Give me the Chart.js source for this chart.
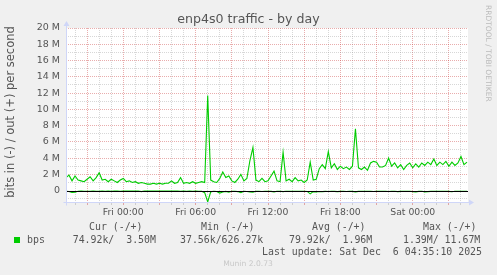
<!DOCTYPE html>
<html>
<head>
<meta charset="utf-8">
<script src="https://cdn.jsdelivr.net/npm/chart.js@4/dist/chart.umd.min.js"></script>
<style>
  html, body { margin: 0; padding: 0; background: #f0f0f0; }
</style>
</head>
<body>
<canvas id="graph" width="497" height="275"></canvas>
<script>
// munin if_ graph, day view (hours are relative to Fri 00:00)
const graphTitle = 'enp4s0 traffic - by day'
const yTitle = 'bits in (-) / out (+) per second'
const startHour = -4.75      // Thu 19:15
const endHour = 28.583       // Sat 04:35
const stepHour = 0.25

// out (+), Mbit/s
const outMbps = [
  1.6, 1.9, 1.2, 1.8, 1.3, 1.2, 1.1, 1.4, 1.7, 1.2, 1.6, 2.2, 1.3, 1.4, 1.1, 1.4,
  1.2, 1.0, 1.3, 1.5, 1.1, 1.2, 1.0, 1.1, 0.9, 1.0, 0.9, 0.8, 0.8, 0.9, 0.8, 0.9,
  0.8, 0.9, 0.9, 1.2, 0.9, 1.0, 1.6, 0.9, 1.0, 0.9, 1.1, 0.9, 1.0, 1.1, 1.0, 11.7,
  1.3, 1.1, 1.0, 1.5, 2.3, 1.6, 1.8, 1.2, 1.0, 1.4, 2.0, 1.2, 1.5, 3.7, 5.3, 1.3,
  1.1, 1.5, 1.1, 1.2, 1.8, 2.4, 1.2, 1.1, 4.7, 1.2, 1.4, 1.1, 1.6, 1.2, 1.3, 1.0,
  1.3, 3.5, 1.3, 1.4, 2.7, 3.2, 2.7, 4.8, 2.8, 3.3, 2.6, 3.0, 2.7, 2.9, 2.6, 3.0,
  7.6, 2.8, 2.6, 2.9, 2.5, 3.4, 3.6, 3.5, 2.9, 2.9, 3.1, 4.0, 3.0, 3.4, 2.8, 3.2,
  2.6, 3.1, 3.4, 2.8, 3.3, 2.9, 3.4, 3.1, 3.5, 3.2, 3.9, 3.1, 3.5, 3.2, 3.6, 3.0,
  3.5, 3.1, 3.4, 4.2, 3.2, 3.5
]

// in (-), Mbit/s
const inMbps = [
  -0.08, -0.10, -0.22, -0.20, -0.07, -0.06, -0.08, -0.07, -0.09, -0.06, -0.07, -0.08, -0.06, -0.07, -0.06, -0.07,
  -0.06, -0.05, -0.07, -0.06, -0.05, -0.06, -0.05, -0.06, -0.05, -0.12, -0.05, -0.06, -0.05, -0.06, -0.05, -0.05,
  -0.06, -0.05, -0.06, -0.05, -0.06, -0.05, -0.08, -0.06, -0.07, -0.06, -0.07, -0.06, -0.07, -0.08, -0.25, -1.39,
  -0.15, -0.08, -0.10, -0.30, -0.18, -0.10, -0.20, -0.08, -0.07, -0.12, -0.25, -0.08, -0.10, -0.15, -0.20, -0.08,
  -0.07, -0.10, -0.08, -0.07, -0.09, -0.15, -0.08, -0.07, -0.12, -0.07, -0.08, -0.07, -0.09, -0.07, -0.08, -0.07,
  -0.10, -0.40, -0.12, -0.15, -0.10, -0.12, -0.09, -0.10, -0.08, -0.09, -0.12, -0.09, -0.08, -0.10, -0.08, -0.09,
  -0.15, -0.09, -0.08, -0.09, -0.08, -0.09, -0.10, -0.08, -0.09, -0.08, -0.09, -0.10, -0.09, -0.08, -0.12, -0.09,
  -0.08, -0.09, -0.08, -0.12, -0.15, -0.09, -0.08, -0.15, -0.12, -0.09, -0.08, -0.09, -0.08, -0.09, -0.08, -0.09,
  -0.14, -0.08, -0.09, -0.08, -0.09, -0.07
]

const yTicks = [-1, 0, 1, 2, 3, 4, 5, 6, 7, 8, 9, 10, 11, 12, 13, 14, 15, 16, 17, 18, 19, 20]
const xTicks = [-4, -3, -2, -1, 0, 1, 2, 3, 4, 5, 6, 7, 8, 9, 10, 11, 12, 13, 14, 15, 16, 17, 18, 19, 20,
  21, 22, 23, 24, 25, 26, 27, 28]

const legendHeads = [['Cur (-/+)', 89], ['Min (-/+)', 201], ['Avg (-/+)', 312], ['Max (-/+)', 423]]
const legendValues = [['74.92k/  3.50M', 72.7], ['37.56k/626.27k', 180], ['79.92k/  1.96M', 289], ['1.39M/ 11.67M', 403]]
const lastUpdate = 'Last update: Sat Dec  6 04:35:10 2025'

const GREEN = '#00cc00'
const MAJOR = 'rgba(200,50,50,0.4)'
const MINOR = 'rgba(140,140,140,0.35)'
const AXIS = '#cfd6f8'
const FONT = '#555555'

const toPoints = arr => arr.map((v, i) => ({x: startHour + i * stepHour, y: v}))

function hourLabel(h) {
  const day = h < 0 ? 'Thu' : (h < 24 ? 'Fri' : 'Sat')
  const hh = ((h % 24) + 24) % 24
  return day + ' ' + String(hh).padStart(2, '0') + ':00'
}

const muninDecor = {
  id: 'muninDecor',
  beforeDraw(chart) {
    const {ctx, chartArea: a} = chart
    ctx.save()
    ctx.fillStyle = '#f0f0f0'
    ctx.fillRect(0, 0, chart.width, chart.height)
    ctx.fillStyle = '#ffffff'
    ctx.fillRect(a.left, a.top, a.right - a.left, a.bottom - a.top)
    ctx.restore()
  },
  afterDatasetsDraw(chart) {
    const {ctx, chartArea: a} = chart
    const y0 = Math.round(chart.scales.y.getPixelForValue(0)) + 0.5
    ctx.save()
    ctx.strokeStyle = '#000000'
    ctx.lineWidth = 1
    ctx.beginPath()
    ctx.moveTo(a.left, y0)
    ctx.lineTo(a.right, y0)
    ctx.stroke()
    ctx.restore()
  },
  afterDraw(chart) {
    const {ctx, chartArea: a} = chart
    const lx = Math.round(a.left) + 0.5
    const by = Math.round(a.bottom) + 0.5
    ctx.save()
    // axes with arrows
    ctx.strokeStyle = AXIS
    ctx.fillStyle = AXIS
    ctx.lineWidth = 1
    ctx.beginPath()
    ctx.moveTo(lx, by + 3)
    ctx.lineTo(lx, a.top - 4)
    ctx.moveTo(lx - 3, by)
    ctx.lineTo(a.right + 3, by)
    ctx.stroke()
    ctx.beginPath()
    ctx.moveTo(lx - 3, a.top - 2)
    ctx.lineTo(lx + 3, a.top - 2)
    ctx.lineTo(lx, a.top - 7)
    ctx.closePath()
    ctx.fill()
    ctx.beginPath()
    ctx.moveTo(a.right + 1, by - 3)
    ctx.lineTo(a.right + 1, by + 3)
    ctx.lineTo(a.right + 6, by)
    ctx.closePath()
    ctx.fill()

    // title
    ctx.fillStyle = FONT
    ctx.font = '12.6px "DejaVu Sans"'
    ctx.textAlign = 'center'
    ctx.textBaseline = 'alphabetic'
    ctx.fillText(graphTitle, 248.5, 23)

    // vertical label
    ctx.save()
    ctx.translate(11.5, 112)
    ctx.rotate(-Math.PI / 2)
    ctx.font = '11.5px "DejaVu Sans"'
    ctx.textBaseline = 'middle'
    ctx.fillText(yTitle, 0, 0)
    ctx.restore()

    // rrdtool watermark
    ctx.save()
    ctx.translate(487.5, 5)
    ctx.rotate(Math.PI / 2)
    ctx.fillStyle = '#bbbbbb'
    ctx.font = '7.5px "DejaVu Sans"'
    ctx.textAlign = 'left'
    ctx.textBaseline = 'middle'
    ctx.fillText('RRDTOOL / TOBI OETIKER', 0, 0)
    ctx.restore()

    // legend
    ctx.font = '9.9px "DejaVu Sans Mono"'
    ctx.fillStyle = FONT
    ctx.textAlign = 'left'
    ctx.textBaseline = 'middle'
    legendHeads.forEach(([t, x]) => ctx.fillText(t, x, 227))
    ctx.fillText('bps', 27, 240)
    legendValues.forEach(([t, x]) => ctx.fillText(t, x, 240))
    ctx.textAlign = 'right'
    ctx.fillText(lastUpdate, 482, 252)
    ctx.fillStyle = GREEN
    ctx.fillRect(14, 237, 6, 6)

    ctx.fillStyle = '#c8c8c8'
    ctx.font = '7.6px "DejaVu Sans"'
    ctx.textAlign = 'center'
    ctx.fillText('Munin 2.0.73', 248, 264)
    ctx.restore()
  }
}

new Chart(document.getElementById('graph'), {
  type: 'line',
  data: {
    datasets: [
      {label: 'out', data: toPoints(outMbps), borderColor: GREEN, borderWidth: 1.1, pointRadius: 0, tension: 0, fill: false},
      {label: 'in', data: toPoints(inMbps), borderColor: GREEN, borderWidth: 1.1, pointRadius: 0, tension: 0, fill: false}
    ]
  },
  options: {
    responsive: false,
    animation: false,
    devicePixelRatio: 1,
    layout: {padding: {top: 28, right: 29, left: 0, bottom: 0}},
    plugins: {legend: {display: false}, tooltip: {enabled: false}, title: {display: false}},
    scales: {
      x: {
        type: 'linear',
        min: startHour,
        max: endHour,
        afterBuildTicks: axis => { axis.ticks = xTicks.map(v => ({value: v})) },
        afterFit: axis => { axis.height = 73 },
        ticks: {
          autoSkip: false,
          maxRotation: 0,
          padding: 2,
          color: FONT,
          font: {family: 'DejaVu Sans', size: 9.3},
          callback: v => (v % 6 === 0 ? hourLabel(v) : '')
        },
        grid: {
          color: c => (c.tick.value % 3 === 0 ? MAJOR : MINOR),
          tickColor: c => (c.tick.value % 3 === 0 ? MAJOR : MINOR),
          tickLength: 3,
          drawTicks: true
        },
        border: {display: false, dash: [1, 1]}
      },
      y: {
        min: -1.4,
        max: 20,
        afterBuildTicks: axis => { axis.ticks = yTicks.map(v => ({value: v})) },
        afterFit: axis => { axis.width = 66 },
        ticks: {
          autoSkip: false,
          padding: 6,
          color: FONT,
          font: {family: 'DejaVu Sans', size: 9.5},
          callback: v => (v === 0 ? '0' : (v > 0 && v % 2 === 0 ? v + ' M' : ''))
        },
        grid: {
          color: c => (c.tick.value === 0 ? 'rgba(0,0,0,0)' : (c.tick.value % 2 === 0 ? MAJOR : MINOR)),
          drawTicks: false
        },
        border: {display: false, dash: [1, 1]}
      }
    }
  },
  plugins: [muninDecor]
})
</script>
</body>
</html>
